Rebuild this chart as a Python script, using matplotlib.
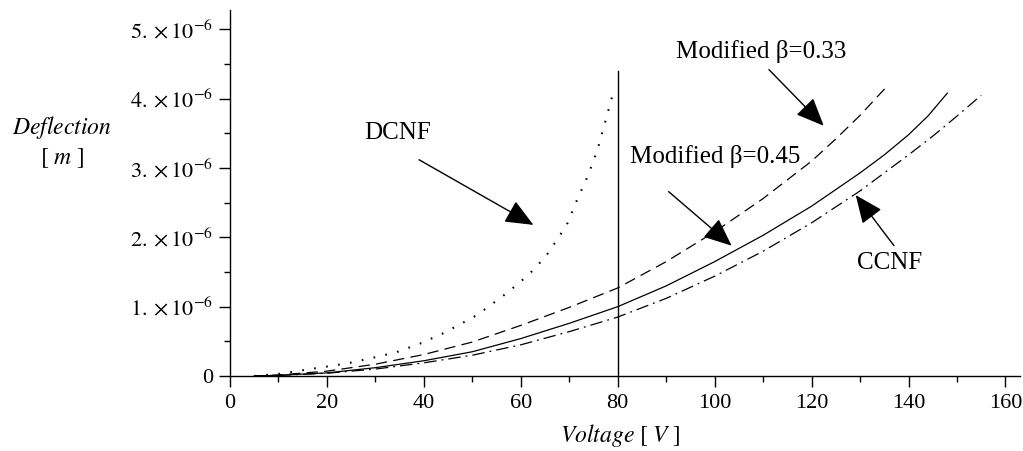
import matplotlib
matplotlib.use("Agg")
import matplotlib.pyplot as plt
from matplotlib.ticker import MultipleLocator, FixedLocator, FixedFormatter

plt.rcParams['font.family'] = ['Liberation Serif', 'DejaVu Serif']
plt.rcParams['mathtext.fontset'] = 'stix'

# ---- data ----
ccnf_v = [5, 10, 20, 30, 40, 50, 60, 70, 80, 90, 100, 110, 120, 130, 140, 145, 150, 155]
ccnf_d = [0.0, 0.008, 0.04, 0.1, 0.19, 0.3, 0.45, 0.64, 0.85, 1.12, 1.44, 1.80, 2.21, 2.67, 3.19, 3.46, 3.75, 4.05]

b45_v = [5, 10, 20, 30, 40, 50, 60, 70, 80, 90, 100, 110, 120, 130, 135, 140, 144, 148]
b45_d = [0.0, 0.01, 0.045, 0.12, 0.22, 0.35, 0.54, 0.76, 1.0, 1.3, 1.65, 2.03, 2.45, 2.93, 3.19, 3.48, 3.75, 4.08]

b33_v = [5, 10, 20, 30, 40, 50, 60, 70, 80, 90, 100, 110, 120, 125, 130, 135.3]
b33_d = [0.0, 0.015, 0.07, 0.17, 0.31, 0.49, 0.73, 0.99, 1.27, 1.65, 2.08, 2.56, 3.1, 3.42, 3.76, 4.16]

dcnf_v = [5, 10, 18.9, 24.1, 29.3, 34.2, 39.3, 44.1, 51, 57.2, 61.6, 65.1, 67.8, 69.6, 71.6, 73.8, 75.8, 78.5, 79.2]
dcnf_d = [0.0, 0.03, 0.125, 0.18, 0.26, 0.34, 0.47, 0.62, 0.88, 1.2, 1.46, 1.72, 2.0, 2.2, 2.54, 2.88, 3.26, 3.94, 4.13]

scale = 1e-6
vline_x = 80
vline_top = 4.4e-6

x_ticks = [0, 20, 40, 60, 80, 100, 120, 140, 160]
y_ticks = [0, 1e-6, 2e-6, 3e-6, 4e-6, 5e-6]
y_labels = ['0', r'$1.\times10^{-6}$', r'$2.\times10^{-6}$', r'$3.\times10^{-6}$',
            r'$4.\times10^{-6}$', r'$5.\times10^{-6}$']

# ---- figure ----
fig = plt.figure(figsize=(10.23, 4.51), dpi=100)
ax = fig.add_axes([230/1023, 75/451, 790/1023, 366/451])

lw = 0.9
ax.plot(ccnf_v, [d*scale for d in ccnf_d], color='black', lw=lw, linestyle=(0, (10, 4, 1.5, 4)))
ax.plot(b45_v, [d*scale for d in b45_d], color='black', lw=lw, linestyle='-')
ax.plot(b33_v, [d*scale for d in b33_d], color='black', lw=lw, linestyle=(0, (9, 5)))
ax.plot(dcnf_v, [d*scale for d in dcnf_d], color='black', lw=1.5, linestyle=(0, (0.8, 5)))
ax.plot([vline_x, vline_x], [0, vline_top], color='black', lw=1.0)

ax.set_xlim(0, 163)
ax.set_ylim(0, 5.28e-6)
for s in ['top', 'right']:
    ax.spines[s].set_visible(False)
ax.spines['left'].set_linewidth(1.0)
ax.spines['bottom'].set_linewidth(1.0)

ax.xaxis.set_major_locator(FixedLocator(x_ticks))
ax.xaxis.set_minor_locator(MultipleLocator(10))
ax.yaxis.set_major_locator(FixedLocator(y_ticks))
ax.yaxis.set_major_formatter(FixedFormatter(y_labels))
ax.yaxis.set_minor_locator(MultipleLocator(0.5e-6))
ax.tick_params(axis='both', which='major', length=8, width=1.0, labelsize=16, color='black')
ax.tick_params(axis='both', which='minor', length=4.5, width=1.0)
ax.tick_params(axis='y', pad=4)
ax.tick_params(axis='x', pad=5)

ax.set_xlabel(r'$\it{Voltage}\ [\ \it{V}\ ]$', fontsize=17)
ax.xaxis.set_label_coords(0.494, -0.125)
ax.set_ylabel(r'$\it{Deflection}$' + '\n' + r'$[\ \it{m}\ ]$', fontsize=17, rotation=0,
              ha='center', va='center', linespacing=1.3)
ax.yaxis.set_label_coords(-0.213, 0.64)

arrow = dict(arrowstyle='-|>,head_length=0.7,head_width=0.3', color='black', lw=1.0,
             mutation_scale=25, shrinkA=0, shrinkB=0)

fs = 18
ax.text(109.5, 4.68e-6, 'Modified β=0.33', fontsize=fs, ha='center', va='center')
ax.annotate('', xy=(122.5, 3.61e-6), xytext=(111.2, 4.42e-6), arrowprops=arrow)

ax.text(100.2, 3.16e-6, 'Modified β=0.45', fontsize=fs, ha='center', va='center')
ax.annotate('', xy=(103.5, 1.88e-6), xytext=(90.5, 2.66e-6), arrowprops=arrow)

ax.text(136.2, 1.63e-6, 'CCNF', fontsize=fs, ha='center', va='center')
ax.annotate('', xy=(129.1, 2.61e-6), xytext=(137.0, 1.88e-6), arrowprops=arrow)

ax.text(34.5, 3.51e-6, 'DCNF', fontsize=fs, ha='center', va='center')
ax.annotate('', xy=(62.6, 2.18e-6), xytext=(39.0, 3.12e-6), arrowprops=arrow)

fig.savefig('out.png', dpi=100)
